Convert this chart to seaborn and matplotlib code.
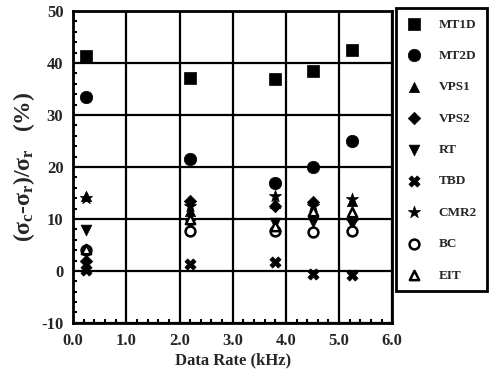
import matplotlib
matplotlib.use("Agg")
import matplotlib.pyplot as plt
from matplotlib.ticker import MultipleLocator
import seaborn as sns
import pandas as pd

# Data rates (kHz) at which each method was evaluated
data_rate = [0.25, 2.2, 3.8, 4.5, 5.25]

# Relative error (%) per method
mt1d = [41.3, 37.2, 37.0, 38.5, 42.5]
mt2d = [33.5, 21.5, 17.0, 20.0, 25.0]
vps1 = [14.5, 11.5, 13.0, 11.0, 13.5]
vps2 = [2.0, 13.5, 12.5, 13.3, 10.0]
rt = [7.8, 9.0, 9.3, 9.5, 9.0]
tbd = [0.2, 1.3, 1.8, -0.5, -0.8]
cmr2 = [14.0, 12.5, 14.5, 12.5, 13.8]
bc = [4.1, 7.6, 7.7, 7.5, 7.6]
eit = [4.2, 10.0, 8.7, 11.5, 11.3]

methods = ["MT1D", "MT2D", "VPS1", "VPS2", "RT", "TBD", "CMR2", "BC", "EIT"]
values = [mt1d, mt2d, vps1, vps2, rt, tbd, cmr2, bc, eit]

rows = []
for name, vals in zip(methods, values):
    for x, y in zip(data_rate, vals):
        rows.append({"rate": x, "err": y, "method": name})
df = pd.DataFrame(rows)

sns.set_style("white")
plt.rcParams["font.family"] = ["Liberation Serif", "DejaVu Serif"]
plt.rcParams["font.weight"] = "bold"
plt.rcParams["mathtext.fontset"] = "custom"
plt.rcParams["mathtext.rm"] = "Liberation Serif:bold"
plt.rcParams["mathtext.it"] = "Liberation Serif:bold"
plt.rcParams["mathtext.bf"] = "Liberation Serif:bold"
plt.rcParams["axes.unicode_minus"] = False

# marker, size, filled?
style = {
    "MT1D": ("s", 80, True),
    "MT2D": ("o", 80, True),
    "VPS1": ("^", 55, True),
    "VPS2": ("D", 40, True),
    "RT": ("v", 60, True),
    "TBD": ("X", 65, True),
    "CMR2": ("*", 85, True),
    "BC": ("o", 50, False),
    "EIT": ("^", 45, False),
}

fig = plt.figure(figsize=(4.91, 3.83), dpi=100)
ax = fig.add_axes([0.149, 0.157, 0.650, 0.814])

for name in methods:
    m, s, filled = style[name]
    sub = df[df["method"] == name]
    sns.scatterplot(
        data=sub, x="rate", y="err", ax=ax, marker=m, s=s,
        color="black",
        facecolor="black" if filled else "white",
        edgecolor="black", linewidth=1.8 if not filled else 0.5,
        label=name, zorder=3,
    )

ax.set_xlim(0, 6)
ax.set_ylim(-10, 50)
ax.xaxis.set_major_locator(MultipleLocator(1))
ax.xaxis.set_minor_locator(MultipleLocator(0.2))
ax.yaxis.set_major_locator(MultipleLocator(10))
ax.yaxis.set_minor_locator(MultipleLocator(2))
ax.set_xticks([0, 1, 2, 3, 4, 5, 6])
ax.set_xticklabels(["0.0", "1.0", "2.0", "3.0", "4.0", "5.0", "6.0"])
ax.grid(True, which="major", color="black", linewidth=1.6)
for sp in ax.spines.values():
    sp.set_color("black")
    sp.set_linewidth(2)
ax.tick_params(which="both", direction="in", color="black",
               labelsize=12, width=1.5)
ax.tick_params(which="major", length=0, pad=7)
ax.tick_params(which="minor", length=3)
ax.tick_params(axis="y", which="minor", left=True)
ax.tick_params(axis="x", which="minor", bottom=True)
for lbl in ax.get_xticklabels() + ax.get_yticklabels():
    lbl.set_fontweight("bold")

ax.set_xlabel("Data Rate (kHz)", fontsize=12, fontweight="bold", labelpad=3)
ax.set_ylabel(r"$(\sigma_c$-$\sigma_r)/\sigma_r$   (%)", fontsize=17,
              fontweight="bold", labelpad=3)

handles, labels = ax.get_legend_handles_labels()
ax.legend_.remove()
leg = fig.legend(handles, labels, loc="upper left",
                 bbox_to_anchor=(0.806, 0.978), frameon=True,
                 fancybox=False, edgecolor="black", framealpha=1,
                 labelspacing=1.45, handletextpad=1.3, borderpad=0.75,
                 handlelength=1.2, borderaxespad=0,
                 prop={"weight": "bold", "size": 9.5})
leg.get_frame().set_linewidth(2)

fig.savefig("out.png", dpi=100)
